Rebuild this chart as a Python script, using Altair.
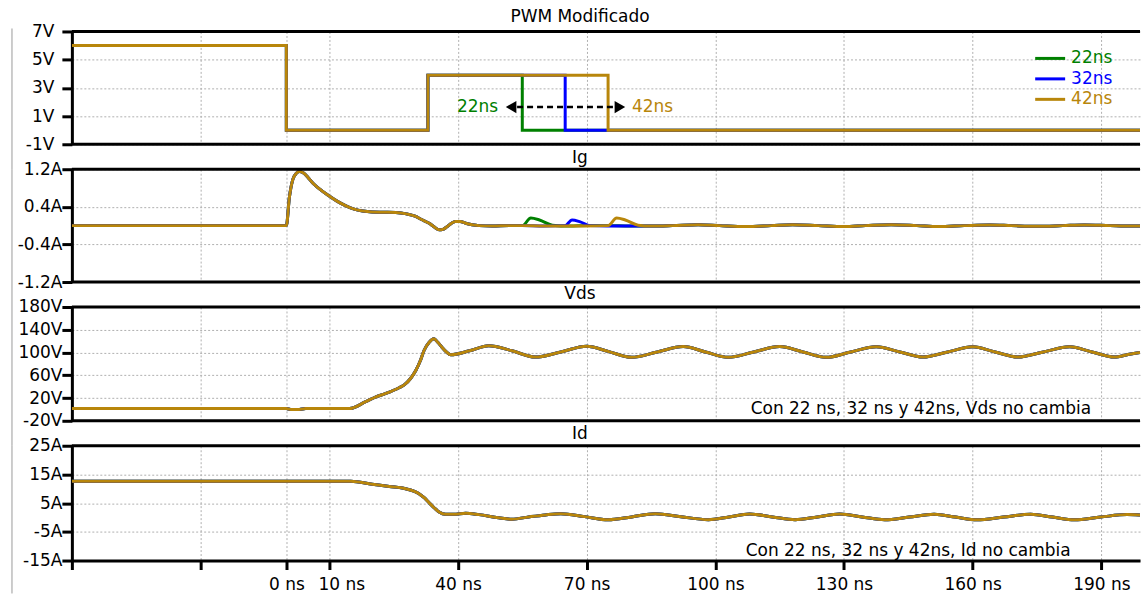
import altair as alt
import pandas as pd

FONT = "DejaVu Sans"
FS = 17
GRID = "#b0b0b0"
W = 1070

series = ["22ns", "32ns", "42ns"]
colors = ["#008000", "#0000FF", "#B8860B"]

x_ticks = [-50, -20, 0, 10, 40, 70, 100, 130, 160, 190]
x_domain = [-50, 199]

# ---- PWM Modificado (V) ----
pwm_t_22 = [-50, 0, 0, 33, 33, 55, 55, 199]
pwm_v_22 = [6, 6, 0, 0, 3.9, 3.9, 0, 0]
pwm_t_32 = [-50, 0, 0, 33, 33, 65, 65, 199]
pwm_v_32 = [6, 6, 0, 0, 3.9, 3.9, 0, 0]
pwm_t_42 = [-50, 0, 0, 33, 33, 75, 75, 199]
pwm_v_42 = [6, 6, 0, 0, 3.9, 3.9, 0, 0]

# ---- Ig (A) ----
ig_t_head = [-50, 0, 0.7, 1.5, 2.2, 3.0, 4.0, 5.0, 6.2, 8.0, 10.0, 12.0, 13.9, 15.8,
             17.8, 20.0, 22.5, 25.5, 28.0, 30.0, 31.5, 33.3, 34.5, 35.6, 36.5, 37.5,
             38.5, 39.4, 40.5, 41.8, 43.3, 44.9, 48.0, 52.0, 55.0]
ig_v_head = [0, 0, 0.6, 0.98, 1.1, 1.15, 1.12, 1.03, 0.9, 0.76, 0.63, 0.51, 0.42, 0.35,
             0.31, 0.29, 0.285, 0.28, 0.25, 0.2, 0.13, 0.05, -0.03, -0.09, -0.08, -0.02,
             0.05, 0.09, 0.09, 0.05, 0.02, 0.0, -0.01, 0.0, 0.0]
ig_t_tail_22 = [57, 59, 62, 66, 70, 75, 80]
ig_v_tail_22 = [0.16, 0.12, 0.01, -0.01, 0.0, 0.0, -0.01]
ig_t_tail_32 = [60, 65, 66.6, 68.5, 70.8, 75, 80]
ig_v_tail_32 = [-0.01, 0.0, 0.12, 0.08, 0.0, -0.01, -0.01]
ig_t_tail_42 = [60, 65, 70, 75, 77, 79, 82]
ig_v_tail_42 = [-0.01, -0.01, -0.01, 0.0, 0.16, 0.12, 0.01]
ig_t_end = [85, 90, 96, 101, 107, 113, 118, 124, 130, 135, 141, 147, 152, 158, 164,
            169, 175, 181, 186, 192, 197, 199]
ig_v_end = [-0.01, 0.0, 0.02, 0.0, -0.02, 0.0, 0.02, 0.0, -0.02, 0.0, 0.02, 0.0, -0.02,
            0.0, 0.015, 0.0, -0.015, 0.0, 0.015, 0.0, -0.01, -0.01]

# ---- Vds (V) ----
vds_t = [-50, 0, 1, 3, 4.5, 14.7, 18.5, 20.9, 23.2, 26.3, 27.4, 29, 30.2, 31.2, 32.1,
         33.3, 34.4, 35.3, 36.3, 37.3, 38.3, 42.7, 47.2, 52.6, 58, 64, 70, 75.2, 80.5,
         86.5, 92.5, 97.7, 103, 109, 115, 120.4, 125.8, 131.6, 137.5, 143, 148.4, 154.2,
         160, 165.2, 170.5, 176.5, 182.6, 187.8, 193, 196.5, 199]
vds_v = [1.5, 1.5, 0, 0, 1.5, 1.5, 13.6, 22, 28, 38, 42.6, 54.8, 68.7, 85, 103.5,
         118, 124, 118, 109, 101, 96, 103, 112, 103, 92, 101, 111, 101.5, 91.5,
         101, 110.5, 101, 91.5, 101, 110.5, 101, 91.5, 101, 110, 101, 92, 101,
         110, 101, 92, 101, 110, 101, 92, 97, 100]

# ---- Id (A) ----
id_t = [-50, 15, 20, 24, 27.8, 31, 32.2, 33.3, 34.5, 35.6, 37.1, 39, 41.8, 44.9, 49.5,
        52.6, 56.5, 60.4, 64, 69.5, 75, 80.5, 86, 92, 98.4, 103.2, 108, 113.3, 118.6,
        123.8, 129, 134.2, 139.5, 145.2, 151, 156, 161, 167.2, 173.5, 178.6, 183.7,
        189.8, 196, 199]
id_v = [12.6, 12.6, 11.6, 10.8, 10.0, 8.2, 6.8, 5.1, 3.3, 1.9, 1.1, 1.1, 1.5, 1.0, -0.1,
        -0.6, 0.2, 0.9, 1.3, 0.3, -0.8, 0.2, 1.3, 0.25, -0.75, 0.2, 1.2, 0.2, -0.8,
        0.2, 1.2, 0.2, -0.8, 0.15, 1.1, 0.15, -0.8, 0.15, 1.1, 0.15, -0.8, 0.15, 1.0, 0.9]


def make_df(pairs):
    rows = []
    for s, ts, vs in pairs:
        for i, (t, v) in enumerate(zip(ts, vs)):
            rows.append({"series": s, "t": t, "v": v, "i": i})
    return pd.DataFrame(rows)


df_pwm = make_df([("22ns", pwm_t_22, pwm_v_22), ("32ns", pwm_t_32, pwm_v_32),
                  ("42ns", pwm_t_42, pwm_v_42)])
df_ig = make_df([
    ("22ns", ig_t_head + ig_t_tail_22 + ig_t_end, ig_v_head + ig_v_tail_22 + ig_v_end),
    ("32ns", ig_t_head + ig_t_tail_32 + ig_t_end, ig_v_head + ig_v_tail_32 + ig_v_end),
    ("42ns", ig_t_head + ig_t_tail_42 + ig_t_end, ig_v_head + ig_v_tail_42 + ig_v_end),
])
df_vds = make_df([(s, vds_t, vds_v) for s in series])
df_id = make_df([(s, id_t, id_v) for s in series])

one = alt.Data(values=[{"a": 1}])


def panel(df, title, title_y, y_domain, y_ticks, unit, height, bottom=False, label_pad=0,
          interp="monotone", extra=None, gray_top=0, gray_bottom=25):
    xaxis_kw = dict(values=x_ticks, grid=True, gridColor=GRID, gridDash=[2, 2],
                    gridWidth=1, title=None)
    if bottom:
        xaxis = alt.Axis(labels=True, ticks=True, domain=True,
                         labelExpr="datum.value < 0 ? '' : datum.value + ' ns'",
                         labelOffset={"condition": {"test": "datum.value == 10",
                                                    "value": 12}, "value": 0},
                         tickColor="black", tickWidth=3, tickSize=9,
                         domainColor="black", domainWidth=3,
                         labelFont=FONT, labelFontSize=FS, labelColor="black",
                         labelPadding=7, **xaxis_kw)
    else:
        xaxis = alt.Axis(labels=False, ticks=False, domain=False, **xaxis_kw)
    yaxis = alt.Axis(values=y_ticks, grid=True, gridColor=GRID, gridDash=[2, 2],
                     gridWidth=1, title=None, labelExpr=f"datum.value + '{unit}'",
                     domainColor="black", domainWidth=3, tickColor="black",
                     tickWidth=3, tickSize=10, labelPadding=label_pad,
                     labelFont=FONT, labelFontSize=FS, labelColor="black")
    xs = alt.Scale(domain=x_domain, nice=False, zero=False)
    ys = alt.Scale(domain=y_domain, nice=False, zero=False)
    layers = []
    for s, c in zip(series, colors):
        layers.append(
            alt.Chart(df).transform_filter(alt.datum.series == s)
            .mark_line(strokeWidth=3, interpolate=interp, color=c, clip=True)
            .encode(x=alt.X("t:Q", scale=xs, axis=xaxis),
                    y=alt.Y("v:Q", scale=ys, axis=yaxis),
                    order=alt.Order("i:Q"))
        )
    # borders
    layers.append(alt.Chart(one).mark_rule(color="black", strokeWidth=3).encode(
        x=alt.value(0), x2=alt.value(W), y=alt.value(0)))
    if not bottom:
        layers.append(alt.Chart(one).mark_rule(color="black", strokeWidth=3).encode(
            x=alt.value(0), x2=alt.value(W), y=alt.value(height)))
    # thin gray frame line at far left
    layers.append(alt.Chart(one).mark_rule(color="#9a9a9a", strokeWidth=1).encode(
        x=alt.value(-60), y=alt.value(gray_top), y2=alt.value(height + gray_bottom)))
    # panel title
    layers.append(alt.Chart(one).mark_text(align="center", baseline="alphabetic",
                                           font=FONT, fontSize=FS, color="black").encode(
        x=alt.value(W / 2 - 26), y=alt.value(title_y), text=alt.value(title)))
    if extra:
        layers.extend(extra)
    return alt.layer(*layers).properties(width=W, height=height)


# legend + arrow annotation for the PWM panel
pwm_extra = []
for k, (s, c) in enumerate(zip(series, colors)):
    yy = 27 + k * 20.5
    pwm_extra.append(alt.Chart(one).mark_rule(color=c, strokeWidth=3).encode(
        x=alt.value(965), x2=alt.value(995), y=alt.value(yy)))
    pwm_extra.append(alt.Chart(one).mark_text(align="left", baseline="middle", font=FONT,
                                              fontSize=FS, color=c).encode(
        x=alt.value(1001), y=alt.value(yy), text=alt.value(s)))
ay = 75.7
pwm_extra.append(alt.Chart(one).mark_rule(color="black", strokeWidth=2.5,
                                          strokeDash=[6, 4]).encode(
    x=alt.value(446), x2=alt.value(543), y=alt.value(ay)))
pwm_extra.append(alt.Chart(one).mark_point(shape="triangle-left", filled=True, size=150,
                                           color="black", opacity=1).encode(
    x=alt.value(440), y=alt.value(ay)))
pwm_extra.append(alt.Chart(one).mark_point(shape="triangle-right", filled=True, size=150,
                                           color="black", opacity=1).encode(
    x=alt.value(549), y=alt.value(ay)))
pwm_extra.append(alt.Chart(one).mark_text(align="right", baseline="middle", font=FONT,
                                          fontSize=FS, color=colors[0]).encode(
    x=alt.value(427), y=alt.value(ay), text=alt.value("22ns")))
pwm_extra.append(alt.Chart(one).mark_text(align="left", baseline="middle", font=FONT,
                                          fontSize=FS, color=colors[2]).encode(
    x=alt.value(561), y=alt.value(ay), text=alt.value("42ns")))
# invisible marker fixing the top of the drawing
pwm_extra.append(alt.Chart(one).mark_rule(strokeOpacity=0, strokeWidth=1).encode(
    x=alt.value(-60), y=alt.value(-30.5), y2=alt.value(-29)))

vds_extra = [alt.Chart(one).mark_text(align="left", baseline="middle", font=FONT,
                                      fontSize=FS, color="black").encode(
    x=alt.value(680), y=alt.value(102),
    text=alt.value("Con 22 ns, 32 ns y 42ns, Vds no cambia"))]
id_extra = [alt.Chart(one).mark_text(align="left", baseline="middle", font=FONT,
                                     fontSize=FS, color="black").encode(
    x=alt.value(675), y=alt.value(105),
    text=alt.value("Con 22 ns, 32 ns y 42ns, Id no cambia"))]

p1 = panel(df_pwm, "PWM Modificado", -9, [-1, 7], [-1, 1, 3, 5, 7], "V", 113,
           label_pad=8, interp="linear", extra=pwm_extra, gray_top=-3)
p2 = panel(df_ig, "Ig", -6, [-1.2, 1.2], [-1.2, -0.4, 0.4, 1.2], "A", 113)
p3 = panel(df_vds, "Vds", -8, [-20, 180], [-20, 20, 60, 100, 140, 180], "V", 114,
           extra=vds_extra)
p4 = panel(df_id, "Id", -7, [-15, 25], [-15, -5, 5, 15, 25], "A", 115, bottom=True,
           extra=id_extra, gray_bottom=33)

chart = alt.vconcat(p1, p2, p3, p4, spacing=25, bounds="flush").properties(
    padding={"left": 11, "top": 0, "right": 0, "bottom": 0}
).configure_view(stroke=None)

chart.save("out.html", embed_options={"renderer": "svg", "actions": False})
